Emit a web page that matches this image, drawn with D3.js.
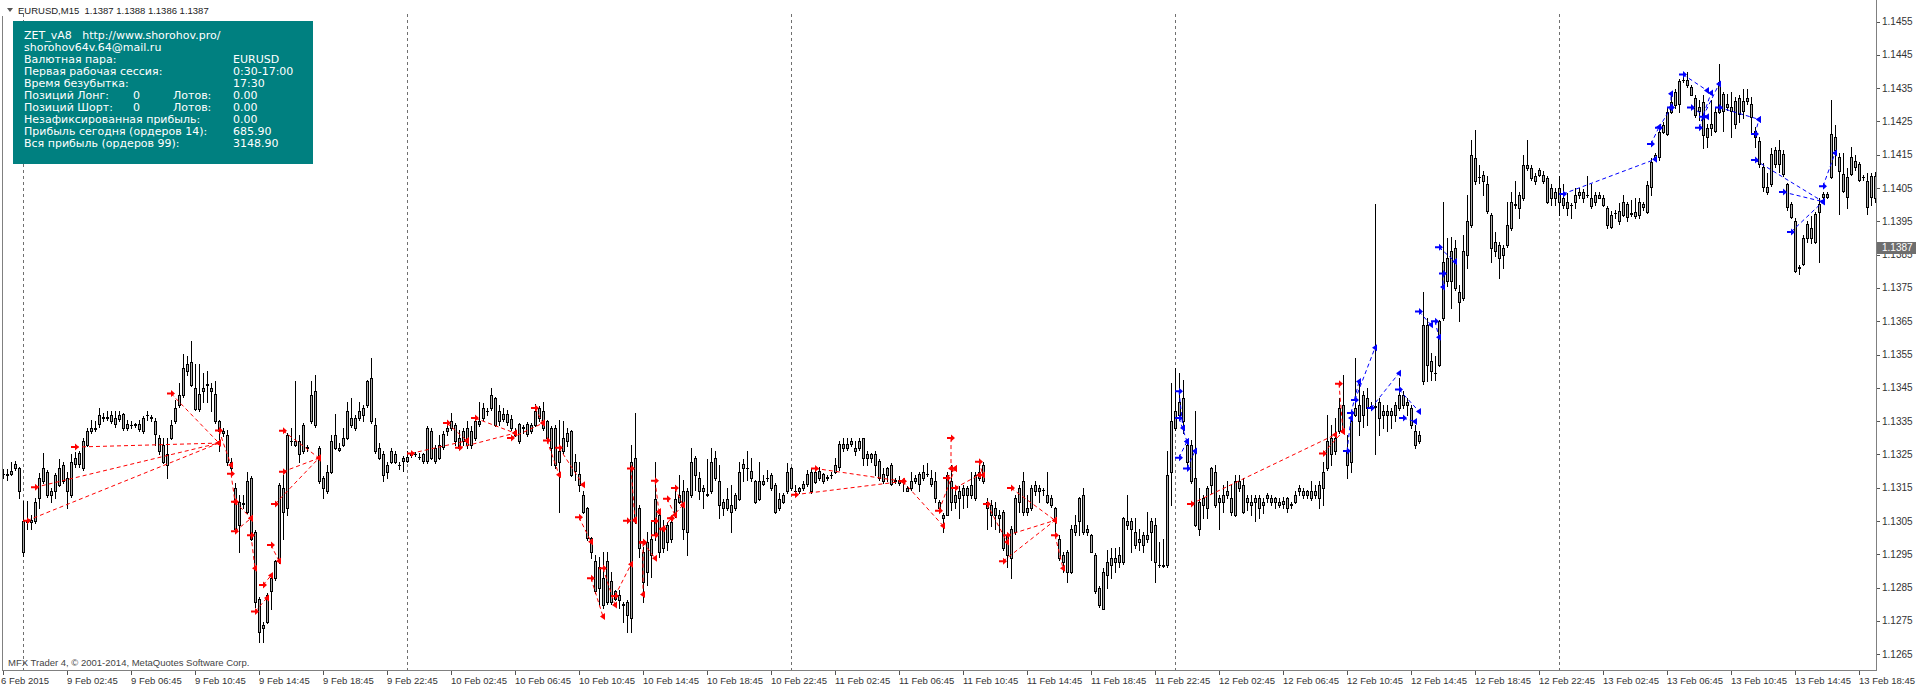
<!DOCTYPE html>
<html><head><meta charset="utf-8">
<script src="https://cdn.jsdelivr.net/npm/d3@7"></script>
<style>
html,body{margin:0;padding:0;background:#fff;overflow:hidden}
svg{display:block}
text{font-family:"Liberation Sans",Arial,sans-serif}
</style></head><body>
<svg id="c" width="1916" height="690"></svg>
<script>
const opens=[1.13191,1.13192,1.13190,1.13208,1.13208,1.12958,1.13051,1.13046,1.13049,1.13118,
1.13169,1.13198,1.13129,1.13139,1.13159,1.13218,1.13179,1.13129,1.13220,1.13220,
1.13208,1.13279,1.13319,1.13328,1.13341,1.13361,1.13359,1.13369,1.13359,1.13356,
1.13371,1.13328,1.13339,1.13338,1.13341,1.13319,1.13369,1.13359,1.13351,1.13299,
1.13279,1.13218,1.13299,1.13349,1.13398,1.13428,1.13499,1.13528,1.13450,1.13387,
1.13440,1.13461,1.13450,1.13430,1.13349,1.13319,1.13309,1.13228,1.13149,1.13039,
1.13101,1.13078,1.13179,1.13017,1.12817,1.12738,1.12748,1.12839,1.12878,1.12929,
1.13149,1.13088,1.13289,1.13289,1.13289,1.13259,1.13269,1.13349,1.13440,1.13269,
1.13179,1.13139,1.13198,1.13269,1.13269,1.13279,1.13299,1.13359,1.13328,1.13359,
1.13389,1.13398,1.13479,1.13339,1.13269,1.13250,1.13218,1.13228,1.13250,1.13217,
1.13230,1.13230,1.13247,1.13250,1.13242,1.13230,1.13230,1.13319,1.13270,1.13240,
1.13271,1.13319,1.13329,1.13339,1.13299,1.13289,1.13279,1.13319,1.13299,1.13351,
1.13359,1.13379,1.13389,1.13418,1.13349,1.13371,1.13346,1.13356,1.13319,1.13289,
1.13329,1.13311,1.13339,1.13339,1.13359,1.13379,1.13349,1.13329,1.13329,1.13260,
1.13260,1.13289,1.13319,1.13199,1.13191,1.13128,1.13088,1.12998,1.12929,1.12849,
1.12878,1.12807,1.12869,1.12817,1.12829,1.12798,1.12807,1.12758,1.13240,1.13088,
1.12958,1.12898,1.12948,1.13012,1.13068,1.12968,1.13039,1.12997,1.13068,1.13108,
1.13139,1.13017,1.13127,1.13240,1.13178,1.13139,1.13127,1.13139,1.13240,1.13169,
1.13108,1.13088,1.13098,1.13088,1.13117,1.13208,1.13208,1.13200,1.13169,1.13117,
1.13171,1.13178,1.13149,1.13159,1.13088,1.13108,1.13139,1.13208,1.13139,1.13139,
1.13149,1.13161,1.13198,1.13168,1.13200,1.13190,1.13180,1.13188,1.13198,1.13213,
1.13281,1.13269,1.13281,1.13259,1.13269,1.13299,1.13240,1.13251,1.13251,1.13230,
1.13190,1.13188,1.13218,1.13169,1.13174,1.13169,1.13149,1.13149,1.13169,1.13161,
1.13179,1.13190,1.13179,1.13169,1.13108,1.13068,1.13068,1.13169,1.13108,1.13139,
1.13127,1.13149,1.13127,1.13118,1.13179,1.13218,1.13108,1.13098,1.13068,1.13068,
1.13078,1.13007,1.12938,1.13017,1.13108,1.13169,1.13078,1.13088,1.13139,1.13149,
1.13144,1.13127,1.13118,1.13088,1.12997,1.12948,1.12898,1.12898,1.13017,1.13049,
1.13127,1.13017,1.13007,1.12948,1.12849,1.12787,1.12888,1.12918,1.12938,1.12927,
1.12927,1.13049,1.13049,1.13017,1.12987,1.13007,1.12997,1.13017,1.13039,1.12918,
1.12918,1.12918,1.13198,1.13329,1.13369,1.13418,1.13279,1.13279,1.13179,1.13027,
1.13098,1.13088,1.13159,1.13198,1.13108,1.13108,1.13128,1.13118,1.13068,1.13169,
1.13159,1.13108,1.13108,1.13108,1.13118,1.13098,1.13118,1.13118,1.13108,1.13108,
1.13100,1.13118,1.13100,1.13108,1.13139,1.13139,1.13128,1.13139,1.13128,1.13118,
1.13149,1.13208,1.13250,1.13299,1.13319,1.13398,1.13260,1.13228,1.13369,1.13398,
1.13369,1.13418,1.13394,1.13393,1.13408,1.13369,1.13379,1.13369,1.13369,1.13389,
1.13428,1.13398,1.13389,1.13319,1.13289,1.13469,1.13639,1.13529,1.13494,1.13519,
1.13660,1.13770,1.13860,1.13750,1.13738,1.13719,1.13850,1.13938,1.14139,1.14083,
1.14070,1.14061,1.13970,1.13860,1.13879,1.13850,1.13879,1.13929,1.14000,1.13990,
1.14019,1.14110,1.14110,1.14085,1.14090,1.14090,1.14080,1.14019,1.14039,1.14009,
1.14019,1.14009,1.14000,1.14009,1.14029,1.14039,1.14029,1.14019,1.14009,1.14019,
1.14019,1.13990,1.13933,1.13975,1.13950,1.13970,1.14002,1.13974,1.13965,1.13970,
1.14002,1.13979,1.14053,1.14139,1.14142,1.14219,1.14212,1.14279,1.14298,1.14301,
1.14375,1.14375,1.14352,1.14319,1.14281,1.14308,1.14202,1.14231,1.14222,1.14279,
1.14331,1.14292,1.14292,1.14241,1.14320,1.14282,1.14311,1.14301,1.14222,1.14192,
1.14114,1.14038,1.14063,1.14163,1.14122,1.14153,1.14063,1.14002,1.13950,1.13812,
1.13822,1.13941,1.13901,1.13972,1.13979,1.14022,1.14031,1.14083,1.14202,1.14142,
1.14093,1.14022,1.14093,1.14132,1.14122,1.14083,1.14070,1.14022,1.14085];
const highs=[1.13205,1.13205,1.13228,1.13230,1.13213,1.13111,1.13111,1.13068,1.13120,1.13193,
1.13253,1.13203,1.13149,1.13193,1.13235,1.13228,1.13198,1.13250,1.13256,1.13259,
1.13299,1.13328,1.13354,1.13349,1.13389,1.13374,1.13379,1.13379,1.13379,1.13379,
1.13374,1.13354,1.13349,1.13344,1.13354,1.13364,1.13381,1.13369,1.13359,1.13309,
1.13299,1.13299,1.13354,1.13413,1.13464,1.13553,1.13545,1.13590,1.13522,1.13521,
1.13494,1.13499,1.13464,1.13469,1.13354,1.13328,1.13324,1.13240,1.13164,1.13127,
1.13127,1.13198,1.13184,1.13022,1.12822,1.12748,1.12834,1.12888,1.12934,1.13164,
1.13188,1.13314,1.13328,1.13469,1.13309,1.13344,1.13279,1.13469,1.13489,1.13274,
1.13184,1.13218,1.13309,1.13371,1.13284,1.13328,1.13408,1.13418,1.13369,1.13408,
1.13398,1.13474,1.13538,1.13359,1.13284,1.13259,1.13228,1.13269,1.13259,1.13228,
1.13245,1.13260,1.13260,1.13257,1.13255,1.13255,1.13334,1.13329,1.13279,1.13309,
1.13319,1.13339,1.13374,1.13344,1.13324,1.13329,1.13349,1.13334,1.13359,1.13408,
1.13404,1.13389,1.13450,1.13423,1.13399,1.13389,1.13384,1.13369,1.13329,1.13344,
1.13339,1.13346,1.13344,1.13401,1.13394,1.13408,1.13354,1.13334,1.13339,1.13354,
1.13349,1.13329,1.13324,1.13250,1.13228,1.13139,1.13093,1.13002,1.12948,1.12943,
1.12958,1.12958,1.12898,1.12844,1.12844,1.12807,1.12812,1.13279,1.13374,1.13098,
1.12973,1.13017,1.13053,1.13228,1.13083,1.13053,1.13048,1.13058,1.13159,1.13188,
1.13174,1.13149,1.13269,1.13245,1.13198,1.13159,1.13235,1.13269,1.13259,1.13218,
1.13117,1.13149,1.13159,1.13134,1.13228,1.13235,1.13259,1.13240,1.13174,1.13228,
1.13188,1.13203,1.13193,1.13164,1.13134,1.13134,1.13223,1.13213,1.13159,1.13151,
1.13169,1.13203,1.13208,1.13213,1.13213,1.13193,1.13188,1.13198,1.13240,1.13289,
1.13299,1.13299,1.13299,1.13289,1.13299,1.13299,1.13259,1.13254,1.13259,1.13235,
1.13208,1.13213,1.13223,1.13179,1.13184,1.13174,1.13154,1.13198,1.13188,1.13198,
1.13218,1.13223,1.13203,1.13198,1.13113,1.13073,1.13198,1.13218,1.13154,1.13154,
1.13159,1.13154,1.13198,1.13198,1.13228,1.13228,1.13118,1.13113,1.13108,1.13083,
1.13083,1.13012,1.13034,1.13127,1.13159,1.13198,1.13127,1.13159,1.13169,1.13159,
1.13149,1.13198,1.13127,1.13093,1.13007,1.12958,1.12963,1.13039,1.13068,1.13122,
1.13149,1.13039,1.13012,1.12953,1.12854,1.12908,1.12963,1.12968,1.12968,1.12973,
1.13063,1.13127,1.13058,1.13058,1.13027,1.13017,1.13078,1.13058,1.13058,1.12987,
1.12997,1.13259,1.13464,1.13509,1.13494,1.13474,1.13289,1.13294,1.13379,1.13149,
1.13128,1.13154,1.13213,1.13218,1.13128,1.13159,1.13169,1.13159,1.13189,1.13189,
1.13179,1.13128,1.13128,1.13128,1.13128,1.13118,1.13134,1.13128,1.13123,1.13118,
1.13123,1.13123,1.13108,1.13139,1.13159,1.13149,1.13144,1.13169,1.13159,1.13169,
1.13228,1.13369,1.13339,1.13359,1.13418,1.13489,1.13309,1.13359,1.13538,1.13460,
1.13440,1.13450,1.13408,1.14001,1.13418,1.13398,1.13398,1.13389,1.13408,1.13479,
1.13440,1.13418,1.13398,1.13339,1.13319,1.13738,1.13660,1.13555,1.13545,1.13654,
1.14009,1.13899,1.13904,1.13894,1.13760,1.13909,1.14029,1.14195,1.14224,1.14120,
1.14100,1.14085,1.13975,1.13919,1.13889,1.13879,1.14009,1.14039,1.14070,1.14039,
1.14150,1.14195,1.14120,1.14095,1.14110,1.14100,1.14085,1.14061,1.14051,1.14085,
1.14061,1.14034,1.14004,1.14051,1.14051,1.14046,1.14085,1.14061,1.14039,1.14039,
1.14029,1.13995,1.13980,1.13985,1.14004,1.14029,1.14009,1.14014,1.14019,1.14019,
1.14009,1.14070,1.14139,1.14155,1.14229,1.14248,1.14289,1.14328,1.14348,1.14378,
1.14388,1.14398,1.14359,1.14328,1.14313,1.14328,1.14243,1.14313,1.14289,1.14421,
1.14338,1.14331,1.14338,1.14323,1.14328,1.14348,1.14348,1.14323,1.14233,1.14204,
1.14124,1.14095,1.14169,1.14174,1.14194,1.14164,1.14065,1.14009,1.13960,1.13819,
1.13908,1.13950,1.13965,1.13979,1.14019,1.14038,1.14038,1.14313,1.14238,1.14155,
1.14155,1.14109,1.14172,1.14150,1.14129,1.14090,1.14095,1.14095,1.14099];
const lows=[1.13179,1.13174,1.13188,1.13203,1.13118,1.12945,1.13027,1.13027,1.13044,1.13088,
1.13164,1.13122,1.13108,1.13118,1.13154,1.13164,1.13088,1.13122,1.13213,1.13213,
1.13203,1.13275,1.13315,1.13319,1.13333,1.13349,1.13354,1.13344,1.13333,1.13349,
1.13324,1.13324,1.13328,1.13333,1.13319,1.13315,1.13354,1.13349,1.13279,1.13250,
1.13223,1.13179,1.13295,1.13344,1.13393,1.13423,1.13489,1.13454,1.13384,1.13379,
1.13408,1.13408,1.13379,1.13344,1.13259,1.13304,1.13218,1.13203,1.13022,1.12958,
1.13088,1.13073,1.12992,1.12792,1.12688,1.12688,1.12743,1.12787,1.12873,1.12923,
1.12997,1.13068,1.13279,1.13274,1.13228,1.13254,1.13259,1.13344,1.13333,1.13164,
1.13118,1.13134,1.13193,1.13265,1.13259,1.13274,1.13295,1.13333,1.13324,1.13354,
1.13349,1.13393,1.13344,1.13254,1.13235,1.13169,1.13179,1.13223,1.13223,1.13205,
1.13199,1.13228,1.13243,1.13245,1.13235,1.13225,1.13225,1.13235,1.13225,1.13235,
1.13265,1.13309,1.13324,1.13279,1.13265,1.13279,1.13270,1.13270,1.13294,1.13334,
1.13354,1.13369,1.13384,1.13334,1.13339,1.13349,1.13339,1.13324,1.13304,1.13284,
1.13314,1.13304,1.13314,1.13334,1.13349,1.13324,1.13294,1.13218,1.13208,1.13078,
1.13255,1.13275,1.13184,1.13174,1.13139,1.13073,1.12993,1.12938,1.12834,1.12802,
1.12788,1.12802,1.12802,1.12812,1.12788,1.12748,1.12718,1.12718,1.13044,1.12943,
1.12807,1.12858,1.12883,1.12992,1.12943,1.12958,1.12963,1.12987,1.13063,1.13103,
1.12997,1.12948,1.13122,1.13144,1.13117,1.13088,1.13124,1.13134,1.13174,1.13058,
1.13068,1.13083,1.13017,1.13083,1.13112,1.13169,1.13174,1.13169,1.13103,1.13112,
1.13159,1.13169,1.13144,1.13073,1.13083,1.13103,1.13134,1.13144,1.13127,1.13134,
1.13144,1.13154,1.13134,1.13164,1.13174,1.13164,1.13174,1.13178,1.13193,1.13203,
1.13259,1.13264,1.13274,1.13249,1.13264,1.13218,1.13218,1.13228,1.13188,1.13174,
1.13164,1.13169,1.13159,1.13164,1.13159,1.13139,1.13139,1.13144,1.13164,1.13139,
1.13174,1.13184,1.13154,1.13108,1.13083,1.13017,1.13068,1.13083,1.13088,1.13058,
1.13088,1.13093,1.13118,1.13113,1.13174,1.13164,1.13027,1.13034,1.13027,1.13017,
1.12963,1.12913,1.12878,1.13012,1.13078,1.13068,1.13068,1.13083,1.13127,1.13108,
1.13127,1.13103,1.13093,1.13007,1.12933,1.12898,1.12868,1.12893,1.13007,1.13007,
1.13012,1.13007,1.12958,1.12834,1.12792,1.12787,1.12849,1.12878,1.12898,1.12913,
1.12922,1.13027,1.12958,1.12968,1.12963,1.12958,1.12987,1.12933,1.12868,1.12913,
1.12913,1.12913,1.13098,1.13324,1.13364,1.13314,1.13218,1.13164,1.13034,1.13007,
1.13059,1.13059,1.13134,1.13093,1.13027,1.13078,1.13118,1.13068,1.13064,1.13139,
1.13073,1.13083,1.13068,1.13049,1.13059,1.13073,1.13108,1.13098,1.13088,1.13093,
1.13088,1.13078,1.13088,1.13103,1.13128,1.13118,1.13118,1.13113,1.13118,1.13088,
1.13098,1.13203,1.13218,1.13250,1.13314,1.13314,1.13179,1.13198,1.13364,1.13309,
1.13333,1.13339,1.13384,1.13250,1.13309,1.13329,1.13319,1.13329,1.13349,1.13384,
1.13389,1.13369,1.13329,1.13269,1.13284,1.13460,1.13469,1.13474,1.13474,1.13514,
1.13654,1.13755,1.13689,1.13745,1.13650,1.13714,1.13809,1.13933,1.14061,1.14066,
1.14029,1.13975,1.13829,1.13845,1.13780,1.13809,1.13874,1.13924,1.13990,1.13960,
1.14014,1.14105,1.14075,1.14061,1.14085,1.14066,1.14004,1.14000,1.14000,1.13970,
1.13990,1.13970,1.13960,1.13990,1.14019,1.14009,1.14024,1.13990,1.14000,1.14019,
1.13995,1.13929,1.13929,1.13960,1.13943,1.13965,1.13950,1.13965,1.13960,1.13960,
1.13984,1.13974,1.14029,1.14134,1.14134,1.14214,1.14209,1.14274,1.14289,1.14279,
1.14368,1.14354,1.14328,1.14264,1.14254,1.14169,1.14172,1.14209,1.14219,1.14274,
1.14222,1.14284,1.14202,1.14231,1.14248,1.14259,1.14303,1.14219,1.14172,1.14114,
1.14041,1.14031,1.14055,1.14114,1.14099,1.14085,1.13984,1.13960,1.13799,1.13792,
1.13819,1.13889,1.13884,1.13884,1.13829,1.14014,1.14019,1.14080,1.14119,1.13972,
1.14038,1.13989,1.14090,1.14104,1.14070,1.14075,1.13972,1.13999,1.14009];
const closes=[1.13192,1.13188,1.13199,1.13221,1.13139,1.13051,1.13046,1.13053,1.13108,1.13179,
1.13208,1.13129,1.13139,1.13188,1.13208,1.13169,1.13139,1.13228,1.13240,1.13253,
1.13289,1.13319,1.13328,1.13325,1.13369,1.13359,1.13361,1.13349,1.13341,1.13369,
1.13328,1.13341,1.13338,1.13340,1.13326,1.13359,1.13367,1.13361,1.13311,1.13259,
1.13228,1.13250,1.13339,1.13389,1.13428,1.13509,1.13521,1.13459,1.13387,1.13430,
1.13450,1.13459,1.13440,1.13349,1.13319,1.13315,1.13228,1.13208,1.13027,1.13108,
1.13103,1.13169,1.12997,1.12807,1.12718,1.12728,1.12829,1.12878,1.12929,1.13159,
1.13078,1.13309,1.13291,1.13279,1.13250,1.13339,1.13271,1.13428,1.13339,1.13169,
1.13149,1.13198,1.13289,1.13309,1.13264,1.13299,1.13379,1.13339,1.13359,1.13379,
1.13369,1.13469,1.13349,1.13259,1.13240,1.13188,1.13198,1.13259,1.13228,1.13219,
1.13240,1.13242,1.13255,1.13252,1.13243,1.13250,1.13329,1.13240,1.13230,1.13279,
1.13311,1.13329,1.13349,1.13289,1.13270,1.13319,1.13329,1.13279,1.13349,1.13341,
1.13389,1.13381,1.13428,1.13339,1.13381,1.13356,1.13371,1.13329,1.13309,1.13341,
1.13331,1.13341,1.13319,1.13381,1.13389,1.13329,1.13299,1.13270,1.13218,1.13228,
1.13299,1.13314,1.13189,1.13228,1.13159,1.13078,1.12998,1.12958,1.12839,1.12913,
1.12798,1.12929,1.12807,1.12839,1.12812,1.12800,1.12768,1.13228,1.13049,1.12968,
1.12868,1.12987,1.12997,1.13117,1.12958,1.13027,1.12987,1.13048,1.13117,1.13127,
1.13027,1.13139,1.13228,1.13188,1.13139,1.13149,1.13130,1.13228,1.13178,1.13098,
1.13088,1.13117,1.13078,1.13127,1.13198,1.13220,1.13209,1.13178,1.13108,1.13169,
1.13161,1.13179,1.13188,1.13078,1.13117,1.13127,1.13198,1.13149,1.13140,1.13149,
1.13161,1.13190,1.13139,1.13198,1.13178,1.13171,1.13181,1.13189,1.13218,1.13281,
1.13269,1.13281,1.13291,1.13269,1.13291,1.13240,1.13251,1.13240,1.13218,1.13178,
1.13169,1.13208,1.13161,1.13174,1.13164,1.13168,1.13141,1.13169,1.13179,1.13190,
1.13198,1.13191,1.13161,1.13118,1.13088,1.13058,1.13188,1.13108,1.13127,1.13118,
1.13149,1.13127,1.13159,1.13188,1.13198,1.13169,1.13088,1.13068,1.13088,1.13058,
1.12968,1.12948,1.13027,1.13118,1.13149,1.13078,1.13088,1.13149,1.13159,1.13139,
1.13143,1.13108,1.13098,1.13049,1.12938,1.12927,1.12958,1.13027,1.13039,1.13118,
1.13017,1.13027,1.12958,1.12839,1.12797,1.12898,1.12927,1.12938,1.12927,1.12948,
1.13058,1.13039,1.13027,1.12978,1.12997,1.12978,1.13007,1.13049,1.12927,1.12919,
1.12914,1.13188,1.13351,1.13379,1.13408,1.13349,1.13228,1.13169,1.13039,1.13108,
1.13118,1.13149,1.13208,1.13098,1.13118,1.13128,1.13139,1.13078,1.13169,1.13149,
1.13078,1.13118,1.13098,1.13118,1.13088,1.13108,1.13128,1.13108,1.13118,1.13098,
1.13110,1.13088,1.13099,1.13128,1.13149,1.13128,1.13139,1.13118,1.13139,1.13159,
1.13198,1.13289,1.13299,1.13260,1.13389,1.13319,1.13218,1.13349,1.13389,1.13349,
1.13428,1.13389,1.13393,1.13395,1.13359,1.13379,1.13369,1.13379,1.13398,1.13428,
1.13398,1.13408,1.13339,1.13279,1.13309,1.13639,1.13519,1.13499,1.13493,1.13650,
1.13829,1.13839,1.13770,1.13869,1.13709,1.13860,1.13950,1.14150,1.14070,1.14082,
1.14090,1.13980,1.13869,1.13889,1.13839,1.13869,1.13938,1.14009,1.14001,1.14029,
1.14120,1.14120,1.14080,1.14070,1.14105,1.14070,1.14009,1.14051,1.14019,1.14051,
1.14000,1.13990,1.13999,1.14029,1.14039,1.14019,1.14028,1.13995,1.14029,1.14029,
1.14000,1.13938,1.13970,1.13974,1.13980,1.14009,1.13963,1.13973,1.13979,1.14009,
1.13992,1.14060,1.14129,1.14150,1.14219,1.14238,1.14279,1.14308,1.14338,1.14371,
1.14374,1.14359,1.14330,1.14269,1.14292,1.14209,1.14231,1.14241,1.14279,1.14368,
1.14282,1.14301,1.14282,1.14311,1.14272,1.14311,1.14321,1.14262,1.14202,1.14122,
1.14053,1.14053,1.14153,1.14122,1.14164,1.14093,1.13992,1.13963,1.13802,1.13811,
1.13901,1.13901,1.13931,1.13889,1.14002,1.14031,1.14022,1.14212,1.14163,1.14102,
1.14041,1.14083,1.14142,1.14112,1.14073,1.14082,1.13992,1.14085,1.14019];

const priceTicks=[1.1265,1.1275,1.1285,1.1295,1.1305,1.1315,1.1325,1.1335,1.1345,1.1355,1.1365,1.1375,1.1385,1.1395,1.1405,1.1415,1.1425,1.1435,1.1445,1.1455];
const timeTickBars=[0,16,32,48,64,80,96,112,128,144,160,176,192,208,224,240,256,272,288,304,320,336,352,368,384,400,416,432,448,464];
const timeTickLabels=["6 Feb 2015","9 Feb 02:45","9 Feb 06:45","9 Feb 10:45","9 Feb 14:45","9 Feb 18:45","9 Feb 22:45","10 Feb 02:45","10 Feb 06:45","10 Feb 10:45","10 Feb 14:45","10 Feb 18:45","10 Feb 22:45","11 Feb 02:45","11 Feb 06:45","11 Feb 10:45","11 Feb 14:45","11 Feb 18:45","11 Feb 22:45","12 Feb 02:45","12 Feb 06:45","12 Feb 10:45","12 Feb 14:45","12 Feb 18:45","12 Feb 22:45","13 Feb 02:45","13 Feb 06:45","13 Feb 10:45","13 Feb 14:45","13 Feb 18:45"];
const separatorBars=[5,101,197,293,389];
const lastPrice=1.1387;
const titleText="EURUSD,M15\u00A0\u00A01.1387 1.1388 1.1386 1.1387";
const copyrightText="MFX Trader 4, © 2001-2014, MetaQuotes Software Corp.";

const tradeTypes=["s","s","s","s","s","s","s","s","s","s","s","s","s","s","s","s","s","s","s","s","s","s","s","s","s","s","s","s","s","s","s","s","s","s","s","s","s","s","s","s","s","s","s","s","s","s","s","s","s","s","s","s","s","s",
"b","b","b","b","b","b","b","b","b","b","b","b","b","b","b","b","b","b","b","b","b","b","b","b","b","b","b","b"];
const tradeOpenBars=[6,8,18,42,54,57,58,58,62,63,65,67,68,70,70,102,111,114,118,127,133,136,139,144,147,150,153,157,156,160,163,160,166,168,163,163,165,167,203,198,225,234,237,236,238,244,246,250,251,252,263,297,330,334,
294,294,294,296,336,337,338,342,349,350,354,359,360,358,390,412,414,417,420,422,424,425,429,438,438,445,447,455];
const tradeOpenPrices=[1.13051,1.13151,1.13272,1.13433,1.13322,1.13192,1.13108,1.13019,1.13007,1.12778,1.12858,1.12978,1.13101,1.13198,1.13321,1.13253,1.13344,1.13270,1.13359,1.13299,1.13389,1.13292,1.13270,1.13061,1.12878,1.12908,1.12825,1.13208,1.13051,1.12985,1.13171,1.12987,1.13117,1.13149,1.13050,1.13007,1.13027,1.13058,1.13208,1.13129,1.13169,1.13081,1.13299,1.13179,1.13149,1.13228,1.13101,1.12929,1.13007,1.13149,1.13007,1.13101,1.13253,1.13462,
1.13440,1.13359,1.13240,1.13208,1.13260,1.13374,1.13413,1.13389,1.13445,1.13359,1.13679,1.13872,1.13793,1.13650,1.14032,1.14182,1.14231,1.14292,1.14391,1.14292,1.14231,1.14264,1.14292,1.14212,1.14134,1.14038,1.13918,1.14055];
const tradeCloseBars=[54,54,54,54,57,58,62,62,63,66,67,69,79,79,79,116,116,128,128,135,135,139,145,147,150,153,157,158,158,160,164,163,168,170,164,165,167,170,225,225,235,238,237,238,244,245,251,263,263,263,265,333,335,335,
295,296,296,298,337,339,343,349,354,353,357,363,360,359,413,414,417,417,426,426,427,429,439,439,455,455,455,458];
const tradeClosePrices=[1.13284,1.13284,1.13284,1.13284,1.13218,1.13108,1.13058,1.13058,1.12908,1.12819,1.12886,1.12930,1.13239,1.13239,1.13239,1.13291,1.13291,1.13314,1.13314,1.13344,1.13344,1.13189,1.13159,1.12988,1.12763,1.12798,1.12920,1.13054,1.13051,1.12829,1.13078,1.12938,1.13068,1.13098,1.13078,1.13027,1.13058,1.13098,1.13169,1.13169,1.13036,1.13208,1.13208,1.13208,1.13188,1.13188,1.12987,1.13052,1.13052,1.13052,1.12908,1.13309,1.13319,1.13319,
1.13329,1.13289,1.13289,1.13260,1.13359,1.13469,1.13570,1.13494,1.13379,1.13349,1.13639,1.13829,1.13753,1.13602,1.14136,1.14233,1.14292,1.14333,1.14343,1.14264,1.14335,1.14362,1.14256,1.14256,1.14009,1.14009,1.14009,1.14155];

const infoLeft=["ZET_vA8\u00A0\u00A0\u00A0http://www.shorohov.pro/","shorohov64v.64@mail.ru","Валютная пара:","Первая рабочая сессия:","Время безубытка:","Позиций Лонг:","Позиций Шорт:","Незафиксированная прибыль:","Прибыль сегодня (ордеров 14):","Вся прибыль (ордеров 99):"];
const infoMid=["","","","","","0","0","","",""];
const infoMid2=["","","","","","Лотов:","Лотов:","","",""];
const infoRight=["","","EURUSD","0:30-17:00","17:30","0.00","0.00","0.00","685.90","3148.90"];

const svg=d3.select("#c");
const plotR=1876, plotB=670;
const n=opens.length;
const x=d3.scaleLinear().domain([0,n-1]).range([3,3+4*(n-1)]);
const y=d3.scaleLinear().domain([1.1265,1.1455]).range([654.2,21.5]);

svg.append("defs").append("clipPath").attr("id","pc").append("rect").attr("x",3).attr("y",0).attr("width",plotR-3).attr("height",plotB);

// frame
svg.append("line").attr("x1",2.5).attr("x2",2.5).attr("y1",16).attr("y2",plotB).attr("stroke","#808080");
svg.append("line").attr("x1",2).attr("x2",plotR+1).attr("y1",plotB+0.5).attr("y2",plotB+0.5).attr("stroke","#808080");
svg.append("line").attr("x1",plotR+0.5).attr("x2",plotR+0.5).attr("y1",0).attr("y2",plotB+1).attr("stroke","#808080");

const g=svg.append("g").attr("clip-path","url(#pc)");
g.selectAll("line.sep").data(separatorBars).join("line").attr("class","sep")
 .attr("x1",d=>Math.round(x(d))+0.5).attr("x2",d=>Math.round(x(d))+0.5)
 .attr("y1",14).attr("y2",plotB).attr("stroke","#707070").attr("stroke-dasharray","3,3");

// candles
const idx=d3.range(n);
const bodyTop=i=>Math.round(y(Math.max(opens[i],closes[i])));
const bodyBot=i=>Math.round(y(Math.min(opens[i],closes[i])));
const cg=g.append("g").attr("shape-rendering","crispEdges");
cg.selectAll("rect.w").data(idx).join("rect").attr("class","w")
 .attr("x",i=>Math.round(x(i))).attr("width",1)
 .attr("y",i=>Math.round(y(highs[i])))
 .attr("height",i=>Math.max(1,Math.round(y(lows[i]))-Math.round(y(highs[i]))+1))
 .attr("fill","#000");
cg.selectAll("rect.b").data(idx).join("rect").attr("class","b")
 .attr("x",i=>Math.round(x(i))-1).attr("width",3)
 .attr("y",bodyTop).attr("height",i=>Math.max(1,bodyBot(i)-bodyTop(i)+1)).attr("fill","#000");
cg.selectAll("rect.f").data(idx.filter(i=>bodyBot(i)-bodyTop(i)>=2)).join("rect").attr("class","f")
 .attr("x",i=>Math.round(x(i))).attr("width",1)
 .attr("y",i=>bodyTop(i)+1).attr("height",i=>bodyBot(i)-bodyTop(i)-1).attr("fill","#a8a8a8");

// trades
const tIdx=d3.range(tradeTypes.length);
const col=t=>tradeTypes[t]==="b"?"#0000ff":"#ff0000";
g.selectAll("line.tr").data(tIdx).join("line").attr("class","tr")
 .attr("x1",t=>x(tradeOpenBars[t])).attr("y1",t=>y(tradeOpenPrices[t]))
 .attr("x2",t=>x(tradeCloseBars[t])).attr("y2",t=>y(tradeClosePrices[t]))
 .attr("stroke",col).attr("stroke-width",1).attr("stroke-dasharray","4,3");
g.selectAll("path.op").data(tIdx).join("path").attr("class","op")
 .attr("transform",t=>`translate(${x(tradeOpenBars[t])},${y(tradeOpenPrices[t])})`)
 .attr("d","M-4,-1H0V-3.5L4,0L0,3.5V1H-4Z").attr("fill",col);
g.selectAll("path.cl").data(tIdx).join("path").attr("class","cl")
 .attr("transform",t=>`translate(${x(tradeCloseBars[t])},${y(tradeClosePrices[t])})`)
 .attr("d","M-3,0L2,-3.5V3.5Z").attr("fill",col);

// price axis
const pa=svg.append("g");
pa.selectAll("line").data(priceTicks).join("line")
 .attr("x1",plotR+1).attr("x2",plotR+4).attr("y1",d=>Math.round(y(d))+0.5).attr("y2",d=>Math.round(y(d))+0.5).attr("stroke","#555");
pa.selectAll("text").data(priceTicks).join("text")
 .attr("x",plotR+6).attr("y",d=>y(d)+3.5).attr("font-size",10).attr("fill","#333").text(d=>d.toFixed(4));
pa.append("rect").attr("x",plotR+1).attr("y",Math.round(y(lastPrice))-6).attr("width",40).attr("height",12).attr("fill","#6e6e6e");
pa.append("text").attr("x",plotR+6).attr("y",y(lastPrice)+3.5).attr("font-size",10).attr("fill","#fff").text(lastPrice.toFixed(4));

// time axis
const ta=svg.append("g");
ta.selectAll("line").data(timeTickBars).join("line")
 .attr("x1",d=>Math.round(x(d))+0.5).attr("x2",d=>Math.round(x(d))+0.5).attr("y1",plotB+1).attr("y2",plotB+5).attr("stroke","#555");
ta.selectAll("text").data(timeTickBars).join("text")
 .attr("x",(d,i)=>i===0?1:Math.round(x(d))).attr("y",684).attr("font-size",9.5).attr("fill","#333")
 .text((d,i)=>timeTickLabels[i]);

// copyright
svg.append("text").attr("x",8).attr("y",666).attr("font-size",9.5).attr("fill","#444").text(copyrightText);

// title
svg.append("path").attr("d","M7,8H13L10,12Z").attr("fill","#555");
svg.append("text").attr("x",18).attr("y",14).attr("font-size",9.5).attr("fill","#222").text(titleText);

// info box
svg.append("rect").attr("x",13).attr("y",21).attr("width",300).attr("height",143).attr("fill","#008080");
const ib=svg.append("g").attr("font-size",11).attr("fill","#fff");
const ff="'DejaVu Sans',Verdana,sans-serif";
ib.selectAll("text.l").data(infoLeft).join("text").attr("class","l").attr("x",24).attr("y",(d,i)=>39+12*i).style("font-family",ff).text(d=>d);
ib.selectAll("text.m").data(infoMid).join("text").attr("class","m").attr("x",133).attr("y",(d,i)=>39+12*i).style("font-family",ff).text(d=>d);
ib.selectAll("text.m2").data(infoMid2).join("text").attr("class","m2").attr("x",173).attr("y",(d,i)=>39+12*i).style("font-family",ff).text(d=>d);
ib.selectAll("text.r").data(infoRight).join("text").attr("class","r").attr("x",233).attr("y",(d,i)=>39+12*i).style("font-family",ff).text(d=>d);
</script>
</body></html>
